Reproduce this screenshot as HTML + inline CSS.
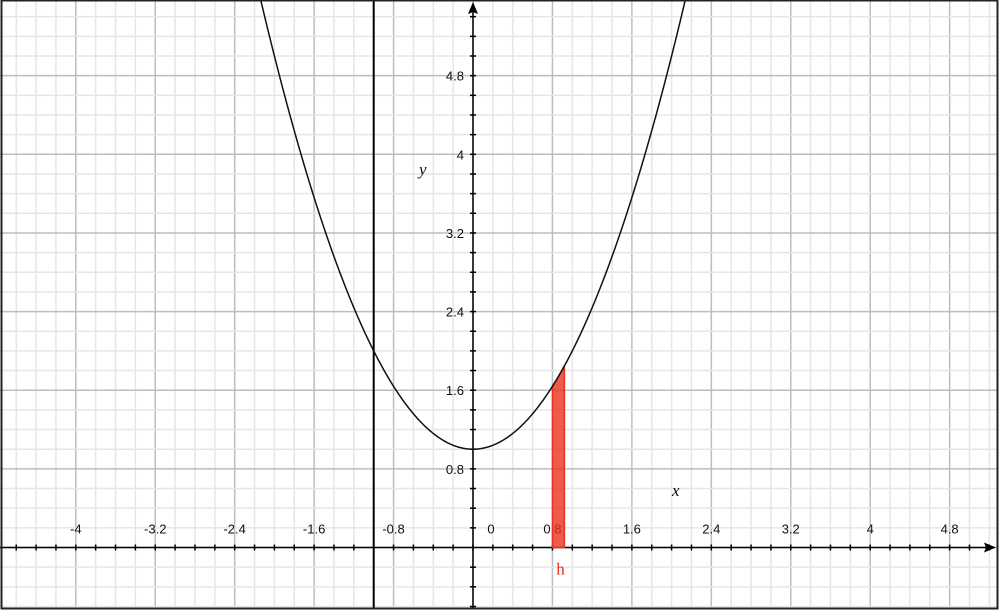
<!DOCTYPE html>
<html><head><meta charset="utf-8"><style>
html,body{margin:0;padding:0;background:#fff;}
svg{display:block;}
text{font-family:"Liberation Sans",sans-serif;font-size:13px;fill:#111;}
</style></head><body>
<svg id="chart" width="1000" height="612" viewBox="0 0 1000 612" xmlns="http://www.w3.org/2000/svg">
<g id="grid"></g>
<g id="axes"></g>
<g id="marks"></g>
<rect x="1.5" y="0.5" width="996" height="608" fill="none" stroke="#222" stroke-width="2"/>
</svg>
<script>
const xTicks = [-4, -3.2, -2.4, -1.6, -0.8, 0, 0.8, 1.6, 2.4, 3.2, 4, 4.8];
const xTickLabels = ["-4","-3.2","-2.4","-1.6","-0.8","0","0.8","1.6","2.4","3.2","4","4.8"];
const yTicks = [0.8, 1.6, 2.4, 3.2, 4, 4.8];
const yTickLabels = ["0.8","1.6","2.4","3.2","4","4.8"];
const coeffA = [1];      // y = a*x^2 + c
const coeffC = [1];
const verticalLineX = [-1];
const stripX = [0.8, 0.92];

const NS="http://www.w3.org/2000/svg";
const X0=473, Y0=547.5, SX=99.3, SY=98.3;
const sx=v=>X0+v*SX, sy=v=>Y0-v*SY;
function el(p,t,a){const e=document.createElementNS(NS,t);for(const k in a)e.setAttribute(k,a[k]);p.appendChild(e);return e;}
const grid=document.getElementById('grid'),axes=document.getElementById('axes'),marks=document.getElementById('marks');
// grid
for(let i=-25;i<=27;i++){const v=i*0.2;const x=sx(v);if(x<2||x>997)continue;const major=i%4===0;
 const l=el(grid,'line',{x1:x,y1:0,x2:x,y2:608,stroke:major?'#bdbdbd':'#e6e6e6','stroke-width':major?1.5:1.5});
 
 }
for(let i=-4;i<=28;i++){const v=i*0.2;const y=sy(v);if(y<0||y>608)continue;const major=i%4===0;
 const l=el(grid,'line',{x1:0,y1:y,x2:997,y2:y,stroke:major?'#bdbdbd':'#e6e6e6','stroke-width':1.5});
 
 }
// axes
let a=el(axes,'line',{x1:0,y1:Y0,x2:992,y2:Y0,stroke:'#000','stroke-width':1.5});

a=el(axes,'line',{x1:X0,y1:8,x2:X0,y2:608,stroke:'#000','stroke-width':1.5});

a=el(axes,'path',{d:`M996 ${Y0} L984 ${Y0-5} L986 ${Y0} L984 ${Y0+5} Z`,fill:'#000'});

a=el(axes,'path',{d:`M${X0} 2 L${X0-5} 14 L${X0} 12 L${X0+5} 14 Z`,fill:'#000'});

for(let i=-24;i<=26;i++){const x=sx(i*0.2);const t=el(axes,'line',{x1:x,y1:Y0-3,x2:x,y2:Y0+3,stroke:'#000','stroke-width':1.5});
 }
for(let i=-3;i<=27;i++){if(i===0)continue;const y=sy(i*0.2);const t=el(axes,'line',{x1:X0-3,y1:y,x2:X0+3,y2:y,stroke:'#000','stroke-width':1.5});
 }
xTicks.forEach((v,i)=>{const t=el(axes,'text',{x:v===0?sx(v)+18:sx(v),y:Y0-14,'text-anchor':'middle'});t.textContent=xTickLabels[i];
 });
yTicks.forEach((v,i)=>{const t=el(axes,'text',{x:X0-9,y:sy(v)+5,'text-anchor':'end'});t.textContent=yTickLabels[i];
 });
let t=el(axes,'text',{x:672,y:496,style:'font-family:"Liberation Serif",serif;font-style:italic;font-size:17px'});t.textContent='x';

t=el(axes,'text',{x:419,y:175,style:'font-family:"Liberation Serif",serif;font-style:italic;font-size:17px'});t.textContent='y';

// vertical line
verticalLineX.forEach(v=>{const l=el(marks,'line',{x1:sx(v),y1:0,x2:sx(v),y2:608,stroke:'#000','stroke-width':2});
 });
// strip
const f=x=>coeffA[0]*x*x+coeffC[0];
let d=`M${sx(stripX[0])} ${sy(0)}`;for(let k=0;k<=10;k++){const x=stripX[0]+(stripX[1]-stripX[0])*k/10;d+=` L${sx(x)} ${sy(f(x))}`;}
d+=` L${sx(stripX[1])} ${sy(0)} Z`;
const s=el(marks,'path',{d:d,fill:'rgba(235,50,30,0.8)',stroke:'#e8321e','stroke-width':1.5});

t=el(marks,'text',{x:sx(stripX[0])+8,y:Y0+27,'text-anchor':'middle',style:'fill:#e8321e;font-family:"Liberation Serif",serif;font-size:17px'});t.textContent='h';

// curve
let p='';for(let x=-3;x<=3;x+=0.01){const y=f(x);p+=(p?' L':'M')+sx(x).toFixed(2)+' '+sy(y).toFixed(2);}
const c=el(marks,'path',{d:p,fill:'none',stroke:'#111','stroke-width':1.5});

</script>
</body></html>
